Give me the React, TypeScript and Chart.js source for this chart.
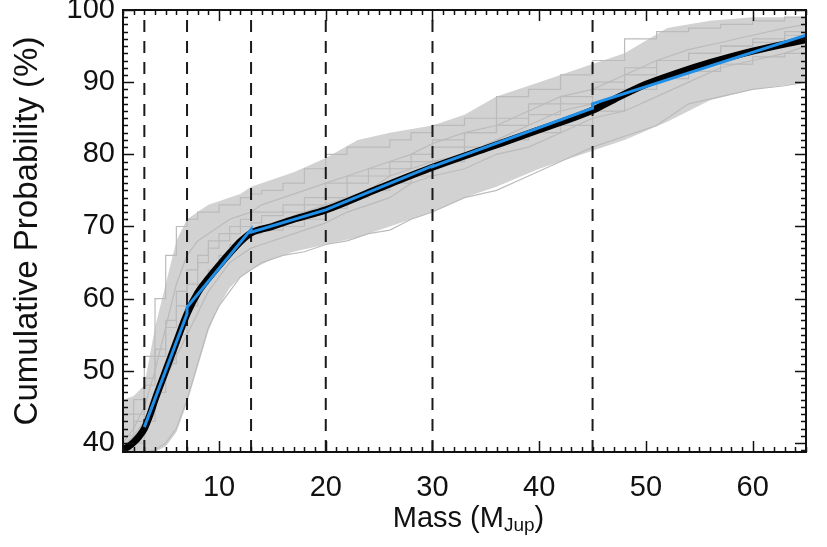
import React, { useEffect, useRef } from 'react';
import { Chart, registerables } from 'chart.js';

Chart.register(...registerables);

// Axis ranges and ticks
const X_MIN = 1;
const X_MAX = 65;
const Y_MIN = 38.75;
const Y_MAX = 100;
const X_TICKS = [10, 20, 30, 40, 50, 60];
const Y_TICKS = [40, 50, 60, 70, 80, 90, 100];

// Bin boundaries (dashed vertical lines)
const DASH_X = [3, 7, 13, 20, 30, 45];

// Envelope of the bootstrap realisations (gray band)
const BAND_X = [1, 2, 3, 4, 5, 6, 7, 8, 9, 10, 11, 12, 13, 15, 17, 20, 23, 26, 30, 33, 36, 40, 45, 48, 52, 56, 60, 65];
const BAND_HI = [46, 46.5, 48, 56, 62, 68, 71, 72, 73, 73.5, 74, 74.5, 75.5, 76.5, 77.5, 79.5, 82, 83, 84, 85.5, 88, 90, 92.5, 94, 97.5, 98.5, 99, 99];
const BAND_LO = [38.8, 38.8, 38.8, 38.8, 39.5, 41.5, 45.5, 50.5, 55.5, 59, 61.5, 63, 64, 65.5, 66.5, 67.5, 68.5, 70, 72, 74, 75.5, 78, 80.5, 82, 84.5, 87.5, 89, 90];

// Individual bootstrap realisations (gray lines)
const GX = [1, 2, 3, 4, 5, 6, 7, 8, 9, 10, 11, 12, 13, 14, 16, 18, 20, 22, 24, 26, 28, 30, 33, 36, 39, 42, 45, 48, 51, 54, 57, 60, 63, 65];
const GRAY_A = [40, 44, 46, 52, 60, 66, 70, 71, 72, 72, 73, 73, 74, 74.5, 75, 76, 78, 80, 81, 81, 82, 83, 84, 85, 88, 89, 91, 93, 96, 97, 97.5, 98, 98.5, 99];
const GRAY_B = [38.8, 38.8, 38.8, 39, 40, 42, 46, 51, 56, 59, 61, 63, 64, 65, 66, 66.5, 67.5, 68, 69, 69.5, 71, 72, 74, 75, 77, 79, 81, 82.5, 84, 87, 88, 89, 89.5, 90];
const GRAY_C = [39, 41, 44, 49, 53, 57, 61, 64, 66, 68, 69, 70, 71, 72, 72, 73, 74, 76, 77, 78, 79, 80, 82, 83, 85, 87, 88, 90, 91, 93, 94, 95, 96, 97];
const GRAY_D = [38.8, 39.5, 41, 45, 49, 52, 55, 58, 61, 63, 65, 66, 67, 67.5, 68.5, 69.5, 70.5, 72, 73, 74, 76, 77, 78, 80, 81, 83, 85, 86, 88, 90, 92, 93, 94, 95];
const GRAY_E = [39, 40, 43, 48, 52, 56, 59, 62, 65, 67, 68, 69, 70, 70.5, 71.5, 72, 73, 74, 76, 77, 78, 79, 81, 83, 84, 85.5, 87, 89, 92, 93, 94, 95, 95.5, 96.5];
const GRAY_F = [40, 42, 45, 50, 56, 62, 66, 68, 69, 70, 71, 71.5, 72, 73, 74, 75, 76, 77, 78, 79, 80, 81.5, 83, 84, 86, 88, 89, 91, 93, 94.5, 95.5, 96.5, 97.5, 98];
const GRAY_G = [38.8, 39, 40, 43, 47, 51, 55, 59, 62, 64, 66, 67.5, 68.5, 69, 69.5, 70, 71, 72.5, 74, 75, 76, 77, 79, 81, 82, 83, 84, 86, 89, 90.5, 91.5, 92.5, 93.5, 94];
const GRAY_H = [39.5, 41, 43, 47, 51, 55, 58, 61, 63, 65, 67, 68, 69, 70, 71, 72, 73, 74, 75, 77, 78, 79, 80, 82, 84, 86, 87, 88, 90, 92, 93, 94, 95, 96];
const GRAY_LINES = [GRAY_A, GRAY_B, GRAY_C, GRAY_D, GRAY_E, GRAY_F, GRAY_G, GRAY_H];

// Cumulative distribution (black)
const BLACK_X = [1, 1.5, 2, 2.5, 3, 3.5, 4, 5, 6, 7, 8, 9, 10, 11, 12, 13, 15, 17, 20, 25, 30, 35, 40, 45, 47, 50, 53, 56, 60, 65];
const BLACK_Y = [39.1, 39.5, 40.1, 40.9, 42, 43.8, 46, 50, 54, 57.9, 60.8, 62.8, 64.6, 66.3, 67.9, 69.1, 70.0, 71.0, 72.3, 75.3, 78.2, 80.8, 83.4, 86.1, 87.6, 89.7, 91.3, 92.7, 94.3, 95.9];

// Piecewise linear fits per bin (blue)
const BLUE_X = [3, 7, 7, 13, 13, 20, 20, 30, 30, 45, 45, 65];
const BLUE_Y = [42.2, 57.9, 58.8, 69.6, 69.2, 72.3, 72.3, 78.4, 78.3, 86.4, 87.0, 96.5];

const FONT = 'Liberation Sans, Arial, Helvetica, sans-serif';

const pts = (xs: number[], ys: number[]) => xs.map((x, i) => ({ x, y: ys[i] }));

const framePlugin = {
  id: 'frameTicks',
  afterDatasetsDraw(chart: any) {
    const { ctx, chartArea: a, scales } = chart;
    const xs = scales.x;
    const ys = scales.y;
    ctx.save();
    ctx.strokeStyle = '#111';
    ctx.lineWidth = 1.5;
    ctx.beginPath();
    for (let v = Math.ceil(X_MIN); v <= X_MAX; v++) {
      const px = Math.round(xs.getPixelForValue(v)) + 0.5;
      const len = v % 10 === 0 ? 11 : 5;
      ctx.moveTo(px, a.bottom);
      ctx.lineTo(px, a.bottom - len);
      ctx.moveTo(px, a.top);
      ctx.lineTo(px, a.top + len);
    }
    for (let v = Math.ceil(Y_MIN); v <= Y_MAX; v++) {
      const py = Math.round(ys.getPixelForValue(v)) + 0.5;
      const len = v % 10 === 0 ? 11 : 5;
      ctx.moveTo(a.left, py);
      ctx.lineTo(a.left + len, py);
      ctx.moveTo(a.right, py);
      ctx.lineTo(a.right - len, py);
    }
    ctx.stroke();
    ctx.lineWidth = 2;
    ctx.strokeRect(a.left, a.top, a.right - a.left, a.bottom - a.top);

    // x-axis title with subscript
    const main = '29px ' + FONT;
    const sub = '19px ' + FONT;
    const t1 = 'Mass (M';
    const t2 = 'Jup';
    const t3 = ')';
    ctx.fillStyle = '#111';
    ctx.textBaseline = 'alphabetic';
    ctx.textAlign = 'left';
    ctx.font = main;
    const w1 = ctx.measureText(t1).width;
    const w3 = ctx.measureText(t3).width;
    ctx.font = sub;
    const w2 = ctx.measureText(t2).width;
    const total = w1 + w2 + w3;
    const cx = (a.left + a.right) / 2 + 4;
    let x0 = cx - total / 2;
    const base = 527;
    ctx.font = main;
    ctx.fillText(t1, x0, base);
    x0 += w1;
    ctx.font = sub;
    ctx.fillText(t2, x0, base + 4);
    x0 += w2;
    ctx.font = main;
    ctx.fillText(t3, x0, base);
    ctx.restore();
  },
};

export default function App() {
  const ref = useRef<HTMLCanvasElement>(null);

  useEffect(() => {
    document.body.style.margin = '0';
    const canvas = ref.current;
    if (!canvas) return;

    const datasets: any[] = [];
    datasets.push({
      label: 'band-hi',
      data: pts(BAND_X, BAND_HI),
      borderWidth: 0,
      borderColor: 'rgba(0,0,0,0)',
      backgroundColor: '#d2d2d2',
      pointRadius: 0,
      fill: '+1',
      order: 10,
      clip: 0,
    });
    datasets.push({
      label: 'band-lo',
      data: pts(BAND_X, BAND_LO),
      borderWidth: 0,
      borderColor: 'rgba(0,0,0,0)',
      pointRadius: 0,
      fill: false,
      order: 10,
      clip: 0,
    });
    GRAY_LINES.forEach((g, i) => {
      datasets.push({
        label: 'gray' + i,
        data: pts(GX, g),
        borderColor: '#bbbbbb',
        borderWidth: 1.2,
        pointRadius: 0,
        fill: false,
        stepped: i % 2 === 0 ? 'after' : false,
        order: 8,
        clip: 0,
      });
    });
    DASH_X.forEach((d, i) => {
      datasets.push({
        label: 'dash' + i,
        data: [{ x: d, y: Y_MIN }, { x: d, y: Y_MAX }],
        borderColor: '#1a1a1a',
        borderWidth: 2,
        borderDash: [12, 9],
        pointRadius: 0,
        fill: false,
        order: 5,
        clip: 0,
      });
    });
    datasets.push({
      label: 'cumulative',
      data: pts(BLACK_X, BLACK_Y),
      borderColor: '#000',
      borderWidth: 7,
      pointRadius: 0,
      fill: false,
      cubicInterpolationMode: 'monotone',
      borderCapStyle: 'round',
      order: 2,
      clip: 0,
    });
    datasets.push({
      label: 'fit',
      data: pts(BLUE_X, BLUE_Y),
      borderColor: '#1f8fe8',
      borderWidth: 3,
      pointRadius: 0,
      fill: false,
      order: 1,
      clip: 0,
    });

    const chart = new Chart(canvas, {
      type: 'line',
      data: { datasets },
      plugins: [framePlugin],
      options: {
        animation: false,
        responsive: false,
        events: [],
        layout: { padding: { left: 0, top: 10, right: 21, bottom: 0 } },
        plugins: {
          legend: { display: false },
          tooltip: { enabled: false },
          title: { display: false },
        },
        scales: {
          x: {
            type: 'linear',
            min: X_MIN,
            max: X_MAX,
            grid: { display: false, drawTicks: false },
            border: { display: false },
            afterBuildTicks: (s: any) => {
              s.ticks = X_TICKS.map((v) => ({ value: v }));
            },
            afterFit: (s: any) => {
              s.height = 95;
              s.paddingLeft = 0;
              s.paddingRight = 0;
            },
            ticks: {
              autoSkip: false,
              maxRotation: 0,
              padding: 19,
              color: '#111',
              font: { family: FONT, size: 29 },
            },
          },
          y: {
            type: 'linear',
            min: Y_MIN,
            max: Y_MAX,
            grid: { display: false, drawTicks: false },
            border: { display: false },
            afterBuildTicks: (s: any) => {
              s.ticks = Y_TICKS.map((v) => ({ value: v }));
            },
            afterFit: (s: any) => {
              s.width = 123;
              s.paddingTop = 0;
              s.paddingBottom = 0;
            },
            ticks: {
              autoSkip: false,
              padding: 8,
              color: '#111',
              font: { family: FONT, size: 29 },
            },
            title: {
              display: true,
              text: 'Cumulative Probability (%)',
              color: '#111',
              font: { family: FONT, size: 33 },
              padding: { top: 8, bottom: 0 },
            },
          },
        },
      } as any,
    });

    return () => {
      chart.destroy();
    };
  }, []);

  return (
    <div style={{ width: 827, height: 547, background: '#fff' }}>
      <canvas ref={ref} width={827} height={547} style={{ display: 'block' }} />
    </div>
  );
}
